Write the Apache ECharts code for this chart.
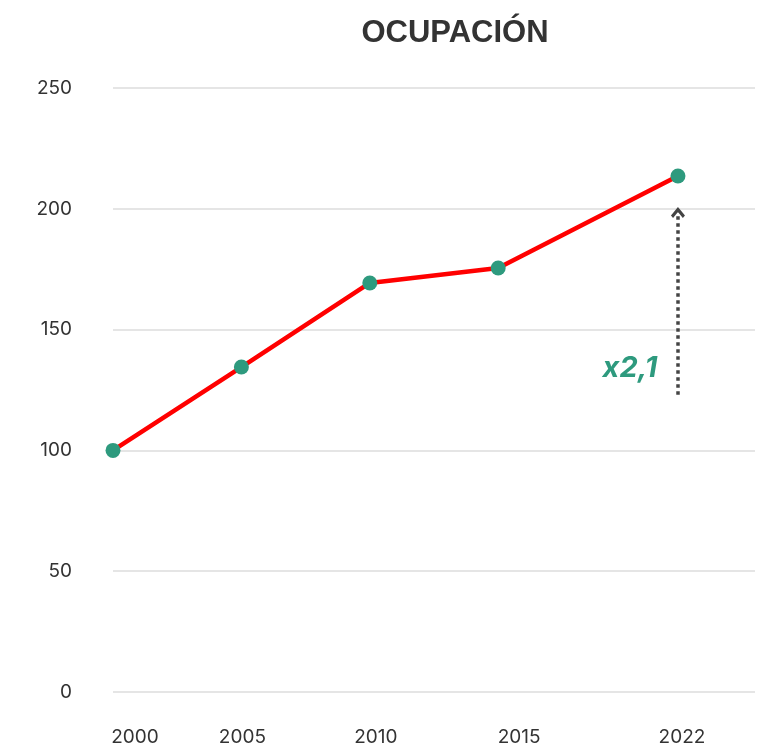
<!DOCTYPE html>
<html>
<head>
<meta charset="utf-8">
<script src="https://cdn.jsdelivr.net/npm/echarts@6/dist/echarts.min.js"></script>
<style>
  html, body { margin: 0; padding: 0; background: #fff; }
  #chart { width: 761px; height: 748px; }
</style>
</head>
<body>
<div id="chart"></div>
<script>
// años y valores de ocupación (índice, 2000 = 100)
const years = [2000, 2005, 2010, 2015, 2022];
const ocupacion = [100, 134.5, 169.3, 175.5, 213.6];
const yTicks = [0, 50, 100, 150, 200, 250];
// flecha de anotación (año, desde, hasta) y texto
const arrowFrom = [2022, 123];
const arrowTo = [2022, 198.5];
const factorText = 'x2,1';
const factorAt = [2022, 134];

const data = years.map((y, i) => [y, ocupacion[i]]);

// en el original las etiquetas del eje x no quedan justo bajo los puntos
const labelShift = { 2000: 22, 2005: 1, 2010: 6, 2015: 21, 2022: 4 };
const labelFont = { fontFamily: 'Inter', fontSize: 19, color: '#333333' };
const rich = {};
years.forEach(y => {
    rich['y' + y] = Object.assign({ padding: [0, 0, 0, labelShift[y] * 2] }, labelFont);
});

var chart = echarts.init(document.getElementById('chart'));
var option = {
    animation: false,
    title: {
        text: 'OCUPACIÓN',
        left: 450,
        textAlign: 'center',
        top: 13,
        textStyle: {
            fontFamily: 'Liberation Sans',
            fontWeight: 'bold',
            fontSize: 31,
            color: '#333333'
        }
    },
    grid: {
        left: 113,
        right: 6,
        top: 88,
        bottom: 56,
        containLabel: false
    },
    xAxis: {
        type: 'value',
        min: 2000,
        max: 2025,
        axisLine: { show: false },
        axisTick: { show: false },
        splitLine: { show: false },
        axisLabel: {
            customValues: years,
            margin: 36,
            fontFamily: 'Inter',
            fontSize: 19,
            color: '#333333',
            formatter: v => '{y' + v + '|' + v + '}',
            rich: rich
        }
    },
    yAxis: {
        type: 'value',
        min: 0,
        max: 250,
        interval: 50,
        axisLine: { show: false },
        axisTick: { show: false },
        splitLine: { lineStyle: { color: '#dcdcdc', width: 1.5 } },
        axisLabel: {
            margin: 41,
            fontFamily: 'Inter',
            fontSize: 19,
            color: '#333333',
            customValues: yTicks
        }
    },
    series: [{
        type: 'line',
        data: data,
        symbol: 'circle',
        symbolSize: 15,
        lineStyle: { color: '#ff0000', width: 4.5 },
        itemStyle: { color: '#2e9a7e', borderWidth: 0 },
        z: 5,
        markLine: {
            silent: true,
            symbol: ['none', 'path://M0,10 L10,0 L20,10 L17,13 L10,6 L3,13 Z'],
            symbolSize: [14, 11],
            lineStyle: { color: '#444444', width: 3.5, type: [3.5, 3.5] },
            label: { show: false },
            data: [[{ coord: arrowFrom }, { coord: arrowTo }]]
        },
        markPoint: {
            silent: true,
            symbol: 'circle',
            symbolSize: 0,
            label: {
                show: true,
                formatter: factorText,
                offset: [-48, 0],
                fontFamily: 'Inter',
                fontStyle: 'italic',
                fontWeight: 'bold',
                fontSize: 29,
                color: '#2e9a7e'
            },
            data: [{ coord: factorAt }]
        }
    }]
};
chart.setOption(option);
</script>
</body>
</html>
